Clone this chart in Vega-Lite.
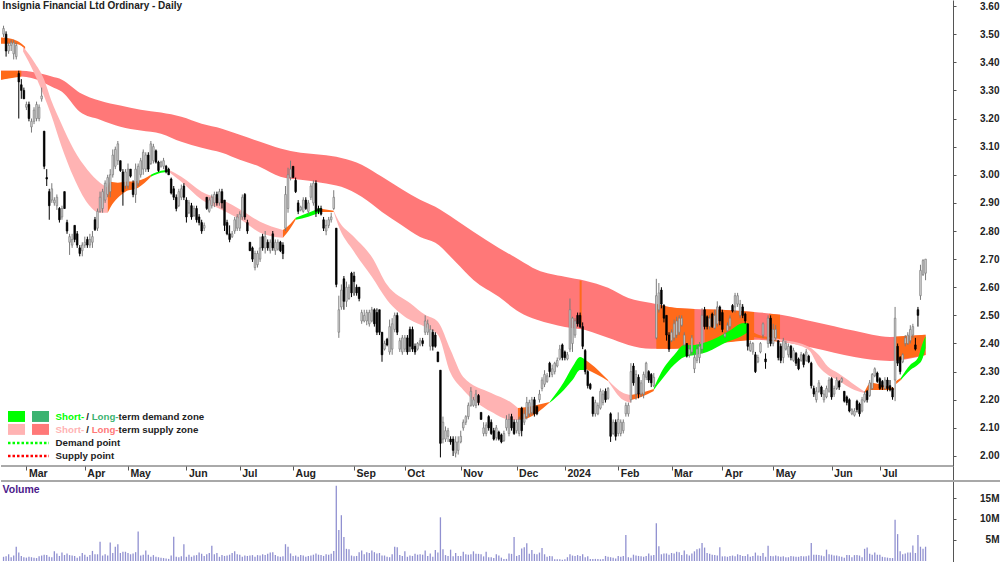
{
"$schema":"https://vega.github.io/schema/vega-lite/v6.json",
"background":"white","padding":0,"spacing":0,"bounds":"flush",
"config":{"view":{"stroke":null},"text":{"font":"Liberation Sans"},"axis":{"labelFont":"Liberation Sans","labelFontWeight":"bold","labelFontSize":10,"labelColor":"#222222","tickColor":"#555555","domainColor":"#555555","grid":false,"title":null}},
"datasets":{
"bars":[
{"d":1,"o":3.5,"h":3.53,"l":3.49,"c":3.52,"v":1.0},{"d":2,"o":3.5,"h":3.51,"l":3.42,"c":3.44,"v":1.1},{"d":3,"o":3.44,"h":3.47,"l":3.43,"c":3.46,"v":1.6},{"d":4,"o":3.46,"h":3.48,"l":3.44,"c":3.47,"v":0.9},{"d":5,"o":3.43,"h":3.48,"l":3.41,"c":3.47,"v":1.3},{"d":6,"o":3.42,"h":3.47,"l":3.41,"c":3.46,"v":3.4},{"d":7,"o":3.36,"h":3.37,"l":3.2,"c":3.33,"v":2.0},{"d":8,"o":3.32,"h":3.34,"l":3.27,"c":3.3,"v":1.2},{"d":9,"o":3.3,"h":3.31,"l":3.27,"c":3.27,"v":0.9},{"d":10,"o":3.24,"h":3.26,"l":3.23,"c":3.25,"v":0.8},
{"d":11,"o":3.25,"h":3.26,"l":3.19,"c":3.2,"v":1.0},{"d":12,"o":3.17,"h":3.2,"l":3.15,"c":3.19,"v":0.9},{"d":13,"o":3.19,"h":3.24,"l":3.18,"c":3.23,"v":0.8},{"d":14,"o":3.2,"h":3.26,"l":3.19,"c":3.25,"v":0.7},{"d":15,"o":3.2,"h":3.25,"l":3.19,"c":3.24,"v":1.1},{"d":16,"o":3.27,"h":3.31,"l":3.26,"c":3.28,"v":1.3},{"d":17,"o":3.155,"h":3.155,"l":3.02,"c":3.03,"v":1.5},{"d":18,"o":2.99,"h":3.02,"l":2.96,"c":2.985,"v":1.4},{"d":19,"o":2.94,"h":2.95,"l":2.84,"c":2.89,"v":1.0},{"d":20,"o":2.91,"h":2.97,"l":2.9,"c":2.95,"v":0.9},
{"d":21,"o":2.9,"h":2.92,"l":2.89,"c":2.91,"v":2.3},{"d":22,"o":2.89,"h":2.93,"l":2.875,"c":2.92,"v":1.8},{"d":23,"o":2.88,"h":2.885,"l":2.83,"c":2.84,"v":1.2},{"d":24,"o":2.85,"h":2.89,"l":2.84,"c":2.88,"v":2.0},{"d":25,"o":2.94,"h":2.94,"l":2.88,"c":2.88,"v":1.4},{"d":26,"o":2.83,"h":2.84,"l":2.79,"c":2.8,"v":1.8},{"d":27,"o":2.76,"h":2.79,"l":2.715,"c":2.78,"v":1.4},{"d":28,"o":2.75,"h":2.79,"l":2.74,"c":2.77,"v":1.3},{"d":29,"o":2.82,"h":2.82,"l":2.76,"c":2.77,"v":1.2},{"d":30,"o":2.79,"h":2.8,"l":2.74,"c":2.75,"v":0.8},
{"d":31,"o":2.74,"h":2.75,"l":2.71,"c":2.72,"v":1.1},{"d":32,"o":2.73,"h":2.76,"l":2.71,"c":2.75,"v":1.9},{"d":33,"o":2.75,"h":2.78,"l":2.74,"c":2.76,"v":1.5},{"d":34,"o":2.77,"h":2.78,"l":2.74,"c":2.75,"v":1.0},{"d":35,"o":2.75,"h":2.79,"l":2.74,"c":2.77,"v":1.4},{"d":36,"o":2.76,"h":2.8,"l":2.74,"c":2.78,"v":2.4},{"d":37,"o":2.84,"h":2.85,"l":2.8,"c":2.805,"v":1.6},{"d":38,"o":2.81,"h":2.88,"l":2.8,"c":2.87,"v":1.6},{"d":39,"o":2.87,"h":2.94,"l":2.865,"c":2.92,"v":4.6},{"d":40,"o":2.88,"h":2.95,"l":2.865,"c":2.94,"v":1.3},
{"d":41,"o":2.91,"h":2.98,"l":2.9,"c":2.97,"v":1.6},{"d":42,"o":2.93,"h":3.0,"l":2.92,"c":2.99,"v":1.3},{"d":43,"o":2.94,"h":3.02,"l":2.92,"c":3.0,"v":4.4},{"d":44,"o":3.0,"h":3.09,"l":2.99,"c":3.07,"v":1.9},{"d":45,"o":3.03,"h":3.1,"l":3.02,"c":3.09,"v":3.4},{"d":46,"o":3.05,"h":3.12,"l":3.035,"c":3.11,"v":4.0},{"d":47,"o":3.05,"h":3.05,"l":3.01,"c":3.015,"v":1.9},{"d":48,"o":3.01,"h":3.02,"l":2.89,"c":2.94,"v":2.2},{"d":49,"o":2.96,"h":3.02,"l":2.95,"c":3.01,"v":2.2},{"d":50,"o":2.96,"h":3.04,"l":2.95,"c":3.02,"v":1.9},
{"d":51,"o":3.02,"h":3.02,"l":2.99,"c":2.995,"v":1.6},{"d":52,"o":2.97,"h":2.98,"l":2.92,"c":2.93,"v":1.8},{"d":53,"o":2.93,"h":3.04,"l":2.9,"c":3.02,"v":2.1},{"d":54,"o":2.97,"h":3.04,"l":2.96,"c":3.03,"v":7.0},{"d":55,"o":3.0,"h":3.06,"l":2.99,"c":3.05,"v":1.3},{"d":56,"o":3.02,"h":3.09,"l":3.0,"c":3.08,"v":1.5},{"d":57,"o":3.02,"h":3.08,"l":3.01,"c":3.07,"v":2.5},{"d":58,"o":3.07,"h":3.08,"l":3.01,"c":3.02,"v":1.5},{"d":59,"o":3.04,"h":3.12,"l":3.035,"c":3.11,"v":1.0},{"d":60,"o":3.05,"h":3.11,"l":3.04,"c":3.1,"v":1.4},
{"d":61,"o":3.085,"h":3.09,"l":3.04,"c":3.045,"v":1.0},{"d":62,"o":3.045,"h":3.05,"l":3.01,"c":3.015,"v":0.9},{"d":63,"o":3.03,"h":3.05,"l":3.025,"c":3.045,"v":0.8},{"d":64,"o":3.03,"h":3.06,"l":3.02,"c":3.05,"v":0.7},{"d":65,"o":3.03,"h":3.035,"l":3.005,"c":3.01,"v":0.6},{"d":66,"o":3.02,"h":3.025,"l":3.0,"c":3.0,"v":0.5},{"d":67,"o":2.985,"h":2.99,"l":2.93,"c":2.935,"v":1.3},{"d":68,"o":2.95,"h":2.96,"l":2.91,"c":2.92,"v":5.8},{"d":69,"o":2.92,"h":2.93,"l":2.87,"c":2.88,"v":1.0},{"d":70,"o":2.89,"h":2.95,"l":2.885,"c":2.94,"v":0.9},
{"d":71,"o":2.92,"h":2.965,"l":2.91,"c":2.95,"v":1.1},{"d":72,"o":2.96,"h":2.97,"l":2.91,"c":2.92,"v":4.0},{"d":73,"o":2.91,"h":2.92,"l":2.83,"c":2.85,"v":1.0},{"d":74,"o":2.865,"h":2.91,"l":2.86,"c":2.9,"v":1.5},{"d":75,"o":2.89,"h":2.9,"l":2.84,"c":2.85,"v":1.0},{"d":76,"o":2.855,"h":2.89,"l":2.85,"c":2.88,"v":1.3},{"d":77,"o":2.88,"h":2.89,"l":2.83,"c":2.84,"v":1.4},{"d":78,"o":2.85,"h":2.86,"l":2.82,"c":2.83,"v":2.0},{"d":79,"o":2.83,"h":2.84,"l":2.79,"c":2.8,"v":1.7},{"d":80,"o":2.81,"h":2.83,"l":2.8,"c":2.82,"v":1.2},
{"d":81,"o":2.92,"h":2.92,"l":2.875,"c":2.88,"v":1.6},{"d":82,"o":2.87,"h":2.92,"l":2.865,"c":2.91,"v":1.9},{"d":83,"o":2.89,"h":2.93,"l":2.88,"c":2.92,"v":3.6},{"d":84,"o":2.9,"h":2.94,"l":2.885,"c":2.93,"v":1.6},{"d":85,"o":2.93,"h":2.94,"l":2.89,"c":2.9,"v":1.9},{"d":86,"o":2.9,"h":2.95,"l":2.89,"c":2.94,"v":1.0},{"d":87,"o":2.94,"h":2.95,"l":2.88,"c":2.9,"v":1.4},{"d":88,"o":2.91,"h":2.91,"l":2.8,"c":2.82,"v":1.2},{"d":89,"o":2.83,"h":2.84,"l":2.785,"c":2.79,"v":1.3},{"d":90,"o":2.79,"h":2.82,"l":2.76,"c":2.77,"v":1.5},
{"d":91,"o":2.78,"h":2.8,"l":2.775,"c":2.79,"v":1.9},{"d":92,"o":2.8,"h":2.85,"l":2.79,"c":2.84,"v":2.3},{"d":93,"o":2.81,"h":2.86,"l":2.8,"c":2.85,"v":1.6},{"d":94,"o":2.81,"h":2.87,"l":2.8,"c":2.86,"v":1.5},{"d":95,"o":2.85,"h":2.93,"l":2.84,"c":2.92,"v":1.0},{"d":96,"o":2.93,"h":2.935,"l":2.84,"c":2.85,"v":1.3},{"d":97,"o":2.83,"h":2.84,"l":2.79,"c":2.8,"v":1.2},{"d":98,"o":2.76,"h":2.76,"l":2.73,"c":2.73,"v":1.3},{"d":99,"o":2.74,"h":2.745,"l":2.69,"c":2.7,"v":1.4},{"d":100,"o":2.67,"h":2.73,"l":2.66,"c":2.72,"v":1.0},
{"d":101,"o":2.68,"h":2.73,"l":2.67,"c":2.72,"v":1.4},{"d":102,"o":2.7,"h":2.78,"l":2.69,"c":2.74,"v":1.3},{"d":103,"o":2.78,"h":2.79,"l":2.73,"c":2.74,"v":1.6},{"d":104,"o":2.74,"h":2.8,"l":2.72,"c":2.78,"v":1.4},{"d":105,"o":2.76,"h":2.77,"l":2.73,"c":2.74,"v":1.7},{"d":106,"o":2.73,"h":2.77,"l":2.72,"c":2.76,"v":2.0},{"d":107,"o":2.79,"h":2.8,"l":2.73,"c":2.74,"v":2.1},{"d":108,"o":2.73,"h":2.77,"l":2.715,"c":2.76,"v":1.4},{"d":109,"o":2.735,"h":2.77,"l":2.73,"c":2.76,"v":1.1},{"d":110,"o":2.76,"h":2.765,"l":2.725,"c":2.73,"v":1.0},
{"d":111,"o":2.75,"h":2.76,"l":2.7,"c":2.72,"v":1.1},{"d":112,"o":2.81,"h":2.96,"l":2.8,"c":2.93,"v":4.0},{"d":113,"o":2.88,"h":3.025,"l":2.865,"c":3.0,"v":3.4},{"d":114,"o":2.99,"h":3.05,"l":2.98,"c":3.02,"v":1.8},{"d":115,"o":3.03,"h":3.03,"l":2.99,"c":2.99,"v":1.2},{"d":116,"o":2.98,"h":2.99,"l":2.935,"c":2.94,"v":1.3},{"d":117,"o":2.9,"h":2.91,"l":2.86,"c":2.87,"v":1.0},{"d":118,"o":2.875,"h":2.89,"l":2.87,"c":2.885,"v":1.4},{"d":119,"o":2.87,"h":2.92,"l":2.865,"c":2.91,"v":1.3},{"d":120,"o":2.91,"h":2.92,"l":2.875,"c":2.88,"v":1.0},
{"d":121,"o":2.87,"h":2.91,"l":2.86,"c":2.9,"v":1.2},{"d":122,"o":2.92,"h":2.97,"l":2.91,"c":2.96,"v":1.3},{"d":123,"o":2.9,"h":2.98,"l":2.89,"c":2.97,"v":1.5},{"d":124,"o":2.97,"h":2.98,"l":2.85,"c":2.87,"v":1.8},{"d":125,"o":2.88,"h":2.89,"l":2.86,"c":2.87,"v":1.5},{"d":126,"o":2.88,"h":2.89,"l":2.855,"c":2.86,"v":1.4},{"d":127,"o":2.84,"h":2.85,"l":2.8,"c":2.81,"v":1.2},{"d":128,"o":2.8,"h":2.84,"l":2.785,"c":2.82,"v":1.6},{"d":129,"o":2.82,"h":2.85,"l":2.81,"c":2.84,"v":1.5},{"d":130,"o":2.84,"h":2.865,"l":2.83,"c":2.85,"v":1.7},
{"d":131,"o":2.88,"h":2.945,"l":2.875,"c":2.92,"v":2.4},{"d":132,"o":2.81,"h":2.81,"l":2.6,"c":2.61,"v":17.9},{"d":133,"o":2.44,"h":2.57,"l":2.42,"c":2.52,"v":7.4},{"d":134,"o":2.53,"h":2.61,"l":2.52,"c":2.59,"v":10.9},{"d":135,"o":2.63,"h":2.64,"l":2.52,"c":2.55,"v":5.7},{"d":136,"o":2.55,"h":2.62,"l":2.53,"c":2.6,"v":2.9},{"d":137,"o":2.56,"h":2.61,"l":2.555,"c":2.6,"v":2.8},{"d":138,"o":2.65,"h":2.655,"l":2.565,"c":2.58,"v":1.3},{"d":139,"o":2.64,"h":2.655,"l":2.57,"c":2.62,"v":1.1},{"d":140,"o":2.6,"h":2.61,"l":2.57,"c":2.58,"v":1.2},
{"d":141,"o":2.6,"h":2.6,"l":2.55,"c":2.56,"v":2.1},{"d":142,"o":2.48,"h":2.52,"l":2.47,"c":2.51,"v":2.5},{"d":143,"o":2.48,"h":2.52,"l":2.475,"c":2.5,"v":1.6},{"d":144,"o":2.48,"h":2.52,"l":2.465,"c":2.51,"v":2.1},{"d":145,"o":2.47,"h":2.52,"l":2.46,"c":2.51,"v":1.9},{"d":146,"o":2.48,"h":2.53,"l":2.475,"c":2.52,"v":2.5},{"d":147,"o":2.52,"h":2.525,"l":2.46,"c":2.47,"v":2.1},{"d":148,"o":2.51,"h":2.525,"l":2.43,"c":2.44,"v":1.8},{"d":149,"o":2.52,"h":2.52,"l":2.43,"c":2.44,"v":1.9},{"d":150,"o":2.44,"h":2.44,"l":2.335,"c":2.36,"v":1.3},
{"d":151,"o":2.38,"h":2.41,"l":2.375,"c":2.4,"v":1.3},{"d":152,"o":2.415,"h":2.42,"l":2.39,"c":2.395,"v":1.0},{"d":153,"o":2.37,"h":2.485,"l":2.36,"c":2.46,"v":0.9},{"d":154,"o":2.38,"h":2.49,"l":2.36,"c":2.47,"v":1.6},{"d":155,"o":2.45,"h":2.51,"l":2.44,"c":2.5,"v":3.4},{"d":156,"o":2.5,"h":2.51,"l":2.43,"c":2.44,"v":3.3},{"d":157,"o":2.38,"h":2.42,"l":2.37,"c":2.41,"v":1.4},{"d":158,"o":2.37,"h":2.43,"l":2.36,"c":2.42,"v":1.2},{"d":159,"o":2.38,"h":2.43,"l":2.37,"c":2.42,"v":2.3},{"d":160,"o":2.42,"h":2.43,"l":2.36,"c":2.37,"v":1.0},
{"d":161,"o":2.45,"h":2.46,"l":2.37,"c":2.39,"v":1.3},{"d":162,"o":2.45,"h":2.46,"l":2.37,"c":2.38,"v":1.2},{"d":163,"o":2.39,"h":2.4,"l":2.36,"c":2.37,"v":1.7},{"d":164,"o":2.38,"h":2.405,"l":2.375,"c":2.4,"v":1.5},{"d":165,"o":2.395,"h":2.42,"l":2.39,"c":2.41,"v":1.6},{"d":166,"o":2.41,"h":2.42,"l":2.39,"c":2.4,"v":1.5},{"d":167,"o":2.44,"h":2.5,"l":2.43,"c":2.48,"v":2.5},{"d":168,"o":2.44,"h":2.485,"l":2.43,"c":2.47,"v":1.2},{"d":169,"o":2.39,"h":2.465,"l":2.375,"c":2.45,"v":1.8},{"d":170,"o":2.44,"h":2.45,"l":2.375,"c":2.39,"v":1.0},
{"d":171,"o":2.43,"h":2.44,"l":2.385,"c":2.39,"v":2.6},{"d":172,"o":2.37,"h":2.37,"l":2.335,"c":2.335,"v":2.0},{"d":173,"o":2.305,"h":2.305,"l":1.995,"c":2.045,"v":10.4},{"d":174,"o":2.06,"h":2.14,"l":2.045,"c":2.12,"v":2.8},{"d":175,"o":2.06,"h":2.105,"l":2.05,"c":2.09,"v":1.4},{"d":176,"o":2.07,"h":2.1,"l":2.05,"c":2.09,"v":1.2},{"d":177,"o":2.06,"h":2.07,"l":2.04,"c":2.05,"v":2.7},{"d":178,"o":2.06,"h":2.07,"l":2.0,"c":2.02,"v":1.1},{"d":179,"o":2.01,"h":2.07,"l":1.995,"c":2.05,"v":1.9},{"d":180,"o":2.02,"h":2.07,"l":2.005,"c":2.05,"v":1.2},
{"d":181,"o":2.05,"h":2.09,"l":2.045,"c":2.07,"v":1.2},{"d":182,"o":2.1,"h":2.13,"l":2.09,"c":2.12,"v":2.2},{"d":183,"o":2.12,"h":2.145,"l":2.11,"c":2.14,"v":1.6},{"d":184,"o":2.14,"h":2.19,"l":2.13,"c":2.18,"v":1.5},{"d":185,"o":2.18,"h":2.245,"l":2.175,"c":2.23,"v":1.6},{"d":186,"o":2.18,"h":2.21,"l":2.175,"c":2.2,"v":2.3},{"d":187,"o":2.18,"h":2.235,"l":2.17,"c":2.22,"v":1.7},{"d":188,"o":2.215,"h":2.22,"l":2.18,"c":2.19,"v":1.7},{"d":189,"o":2.155,"h":2.155,"l":2.13,"c":2.13,"v":1.6},{"d":190,"o":2.08,"h":2.12,"l":2.07,"c":2.1,"v":1.1},
{"d":191,"o":2.08,"h":2.12,"l":2.07,"c":2.11,"v":2.2},{"d":192,"o":2.14,"h":2.145,"l":2.09,"c":2.1,"v":0.9},{"d":193,"o":2.12,"h":2.13,"l":2.075,"c":2.08,"v":0.9},{"d":194,"o":2.09,"h":2.1,"l":2.055,"c":2.06,"v":0.7},{"d":195,"o":2.065,"h":2.11,"l":2.055,"c":2.1,"v":1.6},{"d":196,"o":2.085,"h":2.09,"l":2.055,"c":2.06,"v":1.3},{"d":197,"o":2.075,"h":2.08,"l":2.045,"c":2.05,"v":0.8},{"d":198,"o":2.055,"h":2.09,"l":2.05,"c":2.08,"v":0.5},{"d":199,"o":2.1,"h":2.145,"l":2.09,"c":2.13,"v":0.5},{"d":200,"o":2.08,"h":2.15,"l":2.07,"c":2.13,"v":1.8},
{"d":201,"o":2.14,"h":2.15,"l":2.09,"c":2.1,"v":1.7},{"d":202,"o":2.12,"h":2.13,"l":2.075,"c":2.08,"v":5.7},{"d":203,"o":2.09,"h":2.13,"l":2.08,"c":2.12,"v":1.2},{"d":204,"o":2.08,"h":2.14,"l":2.07,"c":2.13,"v":1.4},{"d":205,"o":2.17,"h":2.175,"l":2.07,"c":2.09,"v":3.0},{"d":206,"o":2.12,"h":2.165,"l":2.11,"c":2.15,"v":3.3},{"d":207,"o":2.14,"h":2.21,"l":2.13,"c":2.19,"v":4.2},{"d":208,"o":2.15,"h":2.2,"l":2.14,"c":2.19,"v":1.7},{"d":209,"o":2.155,"h":2.21,"l":2.145,"c":2.2,"v":2.6},{"d":210,"o":2.2,"h":2.21,"l":2.14,"c":2.15,"v":1.7},
{"d":211,"o":2.175,"h":2.18,"l":2.145,"c":2.15,"v":1.6},{"d":212,"o":2.2,"h":2.235,"l":2.19,"c":2.22,"v":2.0},{"d":213,"o":2.24,"h":2.28,"l":2.23,"c":2.27,"v":3.1},{"d":214,"o":2.255,"h":2.305,"l":2.245,"c":2.29,"v":1.6},{"d":215,"o":2.265,"h":2.295,"l":2.26,"c":2.285,"v":1.0},{"d":216,"o":2.33,"h":2.335,"l":2.28,"c":2.3,"v":1.2},{"d":217,"o":2.29,"h":2.325,"l":2.28,"c":2.31,"v":1.1},{"d":218,"o":2.3,"h":2.335,"l":2.29,"c":2.33,"v":0.4},{"d":219,"o":2.32,"h":2.35,"l":2.315,"c":2.34,"v":0.4},{"d":220,"o":2.345,"h":2.395,"l":2.34,"c":2.38,"v":0.4},
{"d":221,"o":2.395,"h":2.4,"l":2.34,"c":2.35,"v":0.3},{"d":222,"o":2.37,"h":2.375,"l":2.34,"c":2.35,"v":0.4},{"d":223,"o":2.345,"h":2.37,"l":2.34,"c":2.36,"v":0.9},{"d":224,"o":2.38,"h":2.56,"l":2.37,"c":2.52,"v":1.6},{"d":225,"o":2.4,"h":2.495,"l":2.37,"c":2.49,"v":1.3},{"d":226,"o":2.43,"h":2.49,"l":2.42,"c":2.48,"v":1.2},{"d":227,"o":2.5,"h":2.51,"l":2.46,"c":2.47,"v":1.4},{"d":228,"o":2.5,"h":2.51,"l":2.455,"c":2.46,"v":1.2},{"d":229,"o":2.46,"h":2.475,"l":2.38,"c":2.39,"v":1.6},{"d":230,"o":2.375,"h":2.38,"l":2.29,"c":2.3,"v":0.9},
{"d":231,"o":2.3,"h":2.305,"l":2.24,"c":2.25,"v":1.1},{"d":232,"o":2.255,"h":2.26,"l":2.235,"c":2.24,"v":0.5},{"d":233,"o":2.21,"h":2.21,"l":2.14,"c":2.15,"v":0.5},{"d":234,"o":2.15,"h":2.2,"l":2.14,"c":2.19,"v":0.5},{"d":235,"o":2.15,"h":2.19,"l":2.145,"c":2.18,"v":0.5},{"d":236,"o":2.17,"h":2.24,"l":2.165,"c":2.23,"v":0.4},{"d":237,"o":2.19,"h":2.235,"l":2.18,"c":2.22,"v":0.5},{"d":238,"o":2.23,"h":2.24,"l":2.19,"c":2.2,"v":1.2},{"d":239,"o":2.205,"h":2.245,"l":2.2,"c":2.24,"v":1.0},{"d":240,"o":2.15,"h":2.155,"l":2.05,"c":2.07,"v":0.9},
{"d":241,"o":2.08,"h":2.13,"l":2.075,"c":2.12,"v":0.8},{"d":242,"o":2.12,"h":2.13,"l":2.055,"c":2.07,"v":0.6},{"d":243,"o":2.08,"h":2.155,"l":2.07,"c":2.13,"v":1.2},{"d":244,"o":2.08,"h":2.13,"l":2.07,"c":2.12,"v":1.0},{"d":245,"o":2.09,"h":2.13,"l":2.08,"c":2.12,"v":1.2},{"d":246,"o":2.15,"h":2.19,"l":2.14,"c":2.18,"v":6.2},{"d":247,"o":2.15,"h":2.19,"l":2.14,"c":2.18,"v":0.9},{"d":248,"o":2.2,"h":2.33,"l":2.19,"c":2.3,"v":0.8},{"d":249,"o":2.32,"h":2.33,"l":2.25,"c":2.26,"v":1.5},{"d":250,"o":2.22,"h":2.305,"l":2.2,"c":2.29,"v":1.3},
{"d":251,"o":2.28,"h":2.29,"l":2.205,"c":2.22,"v":1.2},{"d":252,"o":2.22,"h":2.27,"l":2.21,"c":2.26,"v":1.1},{"d":253,"o":2.22,"h":2.3,"l":2.205,"c":2.29,"v":1.0},{"d":254,"o":2.28,"h":2.335,"l":2.27,"c":2.33,"v":1.2},{"d":255,"o":2.3,"h":2.305,"l":2.26,"c":2.27,"v":1.8},{"d":256,"o":2.29,"h":2.295,"l":2.245,"c":2.26,"v":1.3},{"d":257,"o":2.25,"h":2.295,"l":2.245,"c":2.28,"v":1.4},{"d":258,"o":2.42,"h":2.63,"l":2.415,"c":2.57,"v":9.0},{"d":259,"o":2.52,"h":2.615,"l":2.51,"c":2.58,"v":3.5},{"d":260,"o":2.59,"h":2.6,"l":2.525,"c":2.54,"v":1.6},
{"d":261,"o":2.535,"h":2.54,"l":2.475,"c":2.49,"v":1.8},{"d":262,"o":2.5,"h":2.5,"l":2.41,"c":2.43,"v":1.8},{"d":263,"o":2.43,"h":2.44,"l":2.37,"c":2.38,"v":1.5},{"d":264,"o":2.41,"h":2.45,"l":2.405,"c":2.44,"v":1.9},{"d":265,"o":2.42,"h":2.485,"l":2.41,"c":2.47,"v":1.8},{"d":266,"o":2.43,"h":2.495,"l":2.42,"c":2.48,"v":2.2},{"d":267,"o":2.44,"h":2.5,"l":2.43,"c":2.49,"v":2.1},{"d":268,"o":2.465,"h":2.5,"l":2.46,"c":2.49,"v":1.4},{"d":269,"o":2.395,"h":2.44,"l":2.39,"c":2.43,"v":2.5},{"d":270,"o":2.4,"h":2.4,"l":2.35,"c":2.355,"v":1.6},
{"d":271,"o":2.36,"h":2.395,"l":2.35,"c":2.38,"v":1.3},{"d":272,"o":2.37,"h":2.43,"l":2.36,"c":2.42,"v":1.8},{"d":273,"o":2.31,"h":2.365,"l":2.295,"c":2.35,"v":2.3},{"d":274,"o":2.34,"h":2.395,"l":2.33,"c":2.38,"v":2.8},{"d":275,"o":2.35,"h":2.405,"l":2.33,"c":2.39,"v":3.0},{"d":276,"o":2.38,"h":2.525,"l":2.365,"c":2.5,"v":4.3},{"d":277,"o":2.52,"h":2.53,"l":2.45,"c":2.46,"v":3.2},{"d":278,"o":2.495,"h":2.5,"l":2.45,"c":2.46,"v":1.9},{"d":279,"o":2.46,"h":2.5,"l":2.45,"c":2.49,"v":1.7},{"d":280,"o":2.505,"h":2.51,"l":2.455,"c":2.46,"v":1.5},
{"d":281,"o":2.455,"h":2.52,"l":2.45,"c":2.5,"v":1.4},{"d":282,"o":2.47,"h":2.55,"l":2.46,"c":2.53,"v":1.3},{"d":283,"o":2.53,"h":2.535,"l":2.465,"c":2.48,"v":3.3},{"d":284,"o":2.51,"h":2.52,"l":2.44,"c":2.45,"v":1.1},{"d":285,"o":2.425,"h":2.44,"l":2.42,"c":2.435,"v":1.1},{"d":286,"o":2.445,"h":2.475,"l":2.44,"c":2.465,"v":1.0},{"d":287,"o":2.46,"h":2.5,"l":2.45,"c":2.49,"v":1.2},{"d":288,"o":2.535,"h":2.54,"l":2.51,"c":2.515,"v":1.3},{"d":289,"o":2.53,"h":2.58,"l":2.51,"c":2.57,"v":1.1},{"d":290,"o":2.54,"h":2.58,"l":2.53,"c":2.57,"v":1.6},
{"d":291,"o":2.5,"h":2.555,"l":2.49,"c":2.54,"v":1.4},{"d":292,"o":2.53,"h":2.54,"l":2.49,"c":2.5,"v":1.2},{"d":293,"o":2.505,"h":2.51,"l":2.47,"c":2.48,"v":1.2},{"d":294,"o":2.47,"h":2.47,"l":2.375,"c":2.39,"v":1.6},{"d":295,"o":2.375,"h":2.41,"l":2.37,"c":2.4,"v":1.0},{"d":296,"o":2.37,"h":2.405,"l":2.36,"c":2.4,"v":1.2},{"d":297,"o":2.36,"h":2.37,"l":2.295,"c":2.3,"v":2.0},{"d":298,"o":2.335,"h":2.36,"l":2.33,"c":2.35,"v":1.3},{"d":299,"o":2.37,"h":2.405,"l":2.365,"c":2.4,"v":1.2},{"d":300,"o":2.43,"h":2.475,"l":2.42,"c":2.47,"v":1.9},
{"d":301,"o":2.345,"h":2.365,"l":2.31,"c":2.335,"v":1.0},{"d":302,"o":2.4,"h":2.5,"l":2.385,"c":2.49,"v":3.6},{"d":303,"o":2.49,"h":2.5,"l":2.39,"c":2.4,"v":1.2},{"d":304,"o":2.4,"h":2.47,"l":2.39,"c":2.45,"v":1.1},{"d":305,"o":2.42,"h":2.465,"l":2.41,"c":2.45,"v":1.3},{"d":306,"o":2.41,"h":2.41,"l":2.34,"c":2.35,"v":1.1},{"d":307,"o":2.39,"h":2.4,"l":2.33,"c":2.34,"v":1.0},{"d":308,"o":2.35,"h":2.42,"l":2.33,"c":2.41,"v":1.1},{"d":309,"o":2.38,"h":2.41,"l":2.375,"c":2.4,"v":0.9},{"d":310,"o":2.36,"h":2.4,"l":2.35,"c":2.39,"v":0.9},
{"d":311,"o":2.39,"h":2.395,"l":2.34,"c":2.35,"v":1.2},{"d":312,"o":2.34,"h":2.385,"l":2.335,"c":2.375,"v":1.1},{"d":313,"o":2.365,"h":2.37,"l":2.32,"c":2.33,"v":1.0},{"d":314,"o":2.345,"h":2.35,"l":2.305,"c":2.31,"v":1.0},{"d":315,"o":2.34,"h":2.37,"l":2.335,"c":2.36,"v":1.2},{"d":316,"o":2.36,"h":2.365,"l":2.315,"c":2.325,"v":1.1},{"d":317,"o":2.34,"h":2.38,"l":2.335,"c":2.37,"v":1.1},{"d":318,"o":2.355,"h":2.36,"l":2.33,"c":2.335,"v":1.3},{"d":319,"o":2.33,"h":2.335,"l":2.24,"c":2.25,"v":4.3},{"d":320,"o":2.24,"h":2.25,"l":2.21,"c":2.22,"v":1.5},
{"d":321,"o":2.2,"h":2.245,"l":2.19,"c":2.23,"v":1.5},{"d":322,"o":2.23,"h":2.27,"l":2.225,"c":2.26,"v":1.4},{"d":323,"o":2.245,"h":2.25,"l":2.21,"c":2.22,"v":1.3},{"d":324,"o":2.2,"h":2.235,"l":2.19,"c":2.22,"v":1.1},{"d":325,"o":2.21,"h":2.25,"l":2.205,"c":2.24,"v":2.7},{"d":326,"o":2.23,"h":2.28,"l":2.225,"c":2.27,"v":1.6},{"d":327,"o":2.275,"h":2.28,"l":2.2,"c":2.21,"v":1.5},{"d":328,"o":2.22,"h":2.25,"l":2.21,"c":2.24,"v":1.3},{"d":329,"o":2.24,"h":2.28,"l":2.235,"c":2.27,"v":1.3},{"d":330,"o":2.265,"h":2.27,"l":2.235,"c":2.245,"v":1.1},
{"d":331,"o":2.265,"h":2.28,"l":2.26,"c":2.275,"v":1.0},{"d":332,"o":2.23,"h":2.23,"l":2.19,"c":2.195,"v":0.8},{"d":333,"o":2.21,"h":2.215,"l":2.18,"c":2.19,"v":1.4},{"d":334,"o":2.2,"h":2.205,"l":2.155,"c":2.16,"v":1.4},{"d":335,"o":2.15,"h":2.17,"l":2.145,"c":2.165,"v":0.9},{"d":336,"o":2.145,"h":2.17,"l":2.14,"c":2.16,"v":1.4},{"d":337,"o":2.195,"h":2.2,"l":2.155,"c":2.165,"v":1.4},{"d":338,"o":2.185,"h":2.19,"l":2.14,"c":2.15,"v":1.3},{"d":339,"o":2.16,"h":2.21,"l":2.155,"c":2.2,"v":0.9},{"d":340,"o":2.195,"h":2.23,"l":2.19,"c":2.22,"v":2.9},
{"d":341,"o":2.23,"h":2.235,"l":2.19,"c":2.2,"v":3.2},{"d":342,"o":2.215,"h":2.27,"l":2.21,"c":2.26,"v":1.7},{"d":343,"o":2.24,"h":2.295,"l":2.235,"c":2.29,"v":1.5},{"d":344,"o":2.285,"h":2.315,"l":2.28,"c":2.31,"v":2.0},{"d":345,"o":2.295,"h":2.3,"l":2.26,"c":2.265,"v":1.5},{"d":346,"o":2.275,"h":2.28,"l":2.235,"c":2.24,"v":1.5},{"d":347,"o":2.265,"h":2.27,"l":2.235,"c":2.245,"v":1.0},{"d":348,"o":2.24,"h":2.28,"l":2.235,"c":2.27,"v":0.9},{"d":349,"o":2.27,"h":2.28,"l":2.23,"c":2.24,"v":0.8},{"d":350,"o":2.25,"h":2.27,"l":2.23,"c":2.235,"v":0.7},
{"d":351,"o":2.24,"h":2.245,"l":2.2,"c":2.21,"v":0.7},{"d":352,"o":2.27,"h":2.53,"l":2.195,"c":2.49,"v":9.8},{"d":353,"o":2.39,"h":2.4,"l":2.32,"c":2.33,"v":6.4},{"d":354,"o":2.35,"h":2.355,"l":2.29,"c":2.3,"v":2.3},{"d":355,"o":2.335,"h":2.365,"l":2.33,"c":2.36,"v":1.6},{"d":356,"o":2.4,"h":2.43,"l":2.39,"c":2.42,"v":1.8},{"d":357,"o":2.4,"h":2.44,"l":2.395,"c":2.43,"v":2.0},{"d":358,"o":2.41,"h":2.465,"l":2.4,"c":2.45,"v":2.0},{"d":359,"o":2.43,"h":2.47,"l":2.42,"c":2.46,"v":3.7},{"d":360,"o":2.395,"h":2.42,"l":2.375,"c":2.38,"v":1.9},
{"d":361,"o":2.52,"h":2.53,"l":2.46,"c":2.5,"v":6.2},{"d":362,"o":2.57,"h":2.68,"l":2.555,"c":2.66,"v":3.4},{"d":363,"o":2.645,"h":2.7,"l":2.64,"c":2.695,"v":2.9},{"d":364,"o":2.65,"h":2.7,"l":2.625,"c":2.7,"v":3.4}
],
"longBand":[
{"d":0,"t":3.37,"b":3.338},{"d":8,"t":3.37,"b":3.349},{"d":16,"t":3.359,"b":3.331},{"d":20,"t":3.349,"b":3.313},{"d":24,"t":3.338,"b":3.295},{"d":31,"t":3.292,"b":3.224},{"d":39,"t":3.263,"b":3.196},{"d":47,"t":3.246,"b":3.171},{"d":55,"t":3.231,"b":3.157},{"d":63,"t":3.221,"b":3.146},{"d":71,"t":3.206,"b":3.117},{"d":79,"t":3.181,"b":3.096},{"d":87,"t":3.164,"b":3.078},{"d":94,"t":3.142,"b":3.053},{"d":102,"t":3.117,"b":3.028},{"d":110,"t":3.093,"b":2.993},{"d":118,"t":3.078,"b":2.982},{"d":126,"t":3.071,"b":2.972},{"d":134,"t":3.06,"b":2.957},{"d":142,"t":3.036,"b":2.922},{"d":150,"t":2.993,"b":2.868},{"d":157.5,"t":2.95,"b":2.822},{"d":165,"t":2.911,"b":2.779},{"d":171,"t":2.886,"b":2.758},{"d":179,"t":2.84,"b":2.69},{"d":186,"t":2.797,"b":2.626},{"d":196,"t":2.74,"b":2.566},{"d":204,"t":2.698,"b":2.512},{"d":211,"t":2.662,"b":2.484},{"d":222,"t":2.637,"b":2.459},{"d":230,"t":2.623,"b":2.448},{"d":239,"t":2.598,"b":2.42},{"d":247,"t":2.562,"b":2.395},{"d":256,"t":2.544,"b":2.381},{"d":265,"t":2.527,"b":2.381},{"d":273,"t":2.523,"b":2.391},{"d":283.5,"t":2.52,"b":2.402},{"d":296.5,"t":2.512,"b":2.413},{"d":307,"t":2.502,"b":2.406},{"d":320,"t":2.477,"b":2.384},{"d":336,"t":2.445,"b":2.352},{"d":350,"t":2.423,"b":2.338},{"d":364,"t":2.431,"b":2.359}
],
"zones":[
{"s":"L1","z":"overlap","d":0,"t":3.37,"b":3.338},{"s":"L1","z":"overlap","d":8,"t":3.37,"b":3.349},
{"s":"L2","z":"overlap","d":258,"t":2.54,"b":2.381},{"s":"L2","z":"overlap","d":265,"t":2.527,"b":2.381},{"s":"L2","z":"overlap","d":273,"t":2.523,"b":2.391},
{"s":"L3","z":"overlap","d":277,"t":2.522,"b":2.396},{"s":"L3","z":"overlap","d":283.5,"t":2.52,"b":2.402},{"s":"L3","z":"overlap","d":296.5,"t":2.512,"b":2.413},
{"s":"L4","z":"overlap","d":302.5,"t":2.506,"b":2.41},{"s":"L4","z":"overlap","d":306.7,"t":2.502,"b":2.406},
{"s":"L5","z":"overlap","d":227.8,"t":2.624,"b":2.466},{"s":"L5","z":"overlap","d":228.6,"t":2.623,"b":2.466},
{"s":"L6","z":"overlap","d":352.4,"t":2.425,"b":2.34},{"s":"L6","z":"overlap","d":364,"t":2.431,"b":2.359},
{"s":"S1","z":"overlap","d":0,"t":3.488,"b":3.466},{"s":"S1","z":"overlap","d":4,"t":3.484,"b":3.466},{"s":"S1","z":"overlap","d":7,"t":3.473,"b":3.463},{"s":"S1","z":"overlap","d":9.5,"t":3.455,"b":3.445},
{"s":"S2","z":"short supply","d":8.7,"t":3.455,"b":3.438},{"s":"S2","z":"short supply","d":13,"t":3.402,"b":3.363},{"s":"S2","z":"short supply","d":17,"t":3.338,"b":3.278},{"s":"S2","z":"short supply","d":19.7,"t":3.267,"b":3.214},{"s":"S2","z":"short supply","d":23.6,"t":3.185,"b":3.107},{"s":"S2","z":"short supply","d":28.7,"t":3.089,"b":2.989},{"s":"S2","z":"short supply","d":34,"t":3.018,"b":2.9},{"s":"S2","z":"short supply","d":39,"t":2.972,"b":2.865},{"s":"S2","z":"short supply","d":42,"t":2.954,"b":2.865},
{"s":"S3","z":"overlap","d":42,"t":2.954,"b":2.865},{"s":"S3","z":"overlap","d":43,"t":2.975,"b":2.883},{"s":"S3","z":"overlap","d":46,"t":2.972,"b":2.918},{"s":"S3","z":"overlap","d":49,"t":2.975,"b":2.94},{"s":"S3","z":"overlap","d":54,"t":2.979,"b":2.954},{"s":"S3","z":"overlap","d":59,"t":3.0,"b":2.993},
{"s":"S4","z":"short demand","d":59,"t":3.0,"b":2.993},{"s":"S4","z":"short demand","d":63,"t":3.014,"b":3.007},{"s":"S4","z":"short demand","d":66,"t":3.018,"b":3.011},
{"s":"S5","z":"short supply","d":66,"t":3.018,"b":3.011},{"s":"S5","z":"short supply","d":71,"t":2.993,"b":2.975},{"s":"S5","z":"short supply","d":79,"t":2.94,"b":2.911},{"s":"S5","z":"short supply","d":87,"t":2.911,"b":2.875},{"s":"S5","z":"short supply","d":94.5,"t":2.875,"b":2.84},{"s":"S5","z":"short supply","d":102,"t":2.833,"b":2.794},{"s":"S5","z":"short supply","d":111,"t":2.804,"b":2.776},
{"s":"S6","z":"overlap","d":111,"t":2.804,"b":2.776},{"s":"S6","z":"overlap","d":114,"t":2.826,"b":2.811},{"s":"S6","z":"overlap","d":116,"t":2.847,"b":2.84},
{"s":"S7","z":"short demand","d":116,"t":2.847,"b":2.84},{"s":"S7","z":"short demand","d":121,"t":2.865,"b":2.851},{"s":"S7","z":"short demand","d":126,"t":2.883,"b":2.868},
{"s":"S8","z":"overlap","d":126,"t":2.879,"b":2.868},{"s":"S8","z":"overlap","d":131,"t":2.872,"b":2.868},
{"s":"S9","z":"short supply","d":131,"t":2.872,"b":2.868},{"s":"S9","z":"short supply","d":132.7,"t":2.84,"b":2.822},{"s":"S9","z":"short supply","d":139,"t":2.779,"b":2.726},{"s":"S9","z":"short supply","d":146,"t":2.708,"b":2.637},{"s":"S9","z":"short supply","d":152,"t":2.609,"b":2.555},{"s":"S9","z":"short supply","d":161,"t":2.544,"b":2.484},{"s":"S9","z":"short supply","d":167,"t":2.502,"b":2.459},{"s":"S9","z":"short supply","d":172,"t":2.477,"b":2.431},{"s":"S9","z":"short supply","d":177,"t":2.377,"b":2.295},{"s":"S9","z":"short supply","d":182,"t":2.281,"b":2.235},{"s":"S9","z":"short supply","d":193,"t":2.224,"b":2.157},{"s":"S9","z":"short supply","d":201,"t":2.189,"b":2.128},{"s":"S9","z":"short supply","d":203.5,"t":2.171,"b":2.128},
{"s":"S10","z":"overlap","d":203.5,"t":2.171,"b":2.128},{"s":"S10","z":"overlap","d":207.5,"t":2.174,"b":2.135},{"s":"S10","z":"overlap","d":211,"t":2.181,"b":2.153},{"s":"S10","z":"overlap","d":216,"t":2.192,"b":2.19},
{"s":"S11","z":"short demand","d":216,"t":2.192,"b":2.189},{"s":"S11","z":"short demand","d":221.6,"t":2.263,"b":2.235},{"s":"S11","z":"short demand","d":225,"t":2.317,"b":2.27},{"s":"S11","z":"short demand","d":228,"t":2.352,"b":2.306},{"s":"S11","z":"short demand","d":230,"t":2.342,"b":2.306},
{"s":"S12","z":"overlap","d":230,"t":2.342,"b":2.31},{"s":"S12","z":"overlap","d":235,"t":2.306,"b":2.288},{"s":"S12","z":"overlap","d":239,"t":2.27,"b":2.267},
{"s":"S13","z":"short supply","d":239,"t":2.27,"b":2.267},{"s":"S13","z":"short supply","d":245,"t":2.224,"b":2.199},{"s":"S13","z":"short supply","d":248,"t":2.217,"b":2.189},
{"s":"S14","z":"overlap","d":248,"t":2.217,"b":2.199},{"s":"S14","z":"overlap","d":252,"t":2.224,"b":2.21},{"s":"S14","z":"overlap","d":257,"t":2.238,"b":2.231},
{"s":"S15","z":"short demand","d":257,"t":2.242,"b":2.235},{"s":"S15","z":"short demand","d":260,"t":2.299,"b":2.27},{"s":"S15","z":"short demand","d":265,"t":2.359,"b":2.324},{"s":"S15","z":"short demand","d":269,"t":2.395,"b":2.352},{"s":"S15","z":"short demand","d":273,"t":2.395,"b":2.359},{"s":"S15","z":"short demand","d":278,"t":2.406,"b":2.37},{"s":"S15","z":"short demand","d":286,"t":2.441,"b":2.406},{"s":"S15","z":"short demand","d":292.5,"t":2.473,"b":2.431},{"s":"S15","z":"short demand","d":294,"t":2.473,"b":2.441},
{"s":"S16","z":"overlap","d":294,"t":2.466,"b":2.441},{"s":"S16","z":"overlap","d":296.5,"t":2.438,"b":2.423},{"s":"S16","z":"overlap","d":302,"t":2.423,"b":2.416},
{"s":"S17","z":"short supply","d":302,"t":2.423,"b":2.416},{"s":"S17","z":"short supply","d":308,"t":2.413,"b":2.406},{"s":"S17","z":"short supply","d":318,"t":2.388,"b":2.377},{"s":"S17","z":"short supply","d":322,"t":2.359,"b":2.317},{"s":"S17","z":"short supply","d":325.6,"t":2.317,"b":2.288},{"s":"S17","z":"short supply","d":329.5,"t":2.295,"b":2.27},{"s":"S17","z":"short supply","d":333.5,"t":2.27,"b":2.246},{"s":"S17","z":"short supply","d":336,"t":2.253,"b":2.235},{"s":"S17","z":"short supply","d":340,"t":2.228,"b":2.224},
{"s":"S18","z":"overlap","d":340,"t":2.228,"b":2.224},{"s":"S18","z":"overlap","d":342.5,"t":2.26,"b":2.235},{"s":"S18","z":"overlap","d":346.5,"t":2.253,"b":2.235},{"s":"S18","z":"overlap","d":351.6,"t":2.242,"b":2.235},
{"s":"S19","z":"overlap","d":352.4,"t":2.267,"b":2.256},{"s":"S19","z":"overlap","d":354.3,"t":2.278,"b":2.27},
{"s":"S20","z":"short demand","d":354.3,"t":2.278,"b":2.27},{"s":"S20","z":"short demand","d":358,"t":2.324,"b":2.306},{"s":"S20","z":"short demand","d":361,"t":2.349,"b":2.324},{"s":"S20","z":"short demand","d":362.6,"t":2.395,"b":2.342},{"s":"S20","z":"short demand","d":364,"t":2.427,"b":2.384}
],
"swatches":[
{"z":"short demand","d":2.76,"d2":9.45,"t":2.16,"b":2.121},{"z":"long demand","d":12.2,"d2":18.9,"t":2.16,"b":2.121},{"z":"short supply","d":2.76,"d2":9.45,"t":2.114,"b":2.075},{"z":"long supply","d":12.2,"d2":18.9,"t":2.114,"b":2.075}
],
"points":[
{"z":"demand point","d":2.76,"d2":18.9,"p":2.046},{"z":"supply point","d":2.76,"d2":18.9,"p":2.0}
],
"heading":[
{"text":"Insignia Financial Ltd Ordinary - Daily","z":"ink","d":0.6,"p":3.6}
],
"labels":[
{"text":"Short-","z":"short demand","d":21.5,"p":2.139},{"text":"/","z":"ink","d":33.6,"p":2.139},{"text":"Long-","z":"long demand","d":35.7,"p":2.139},{"text":"term demand zone","z":"ink","d":46.3,"p":2.139},
{"text":"Short-","z":"short supply","d":21.5,"p":2.093},{"text":"/","z":"ink","d":33.6,"p":2.093},{"text":"Long-","z":"long supply","d":35.7,"p":2.093},{"text":"term supply zone","z":"ink","d":46.3,"p":2.093},
{"text":"Demand point","z":"ink","d":21.5,"p":2.046},{"text":"Supply point","z":"ink","d":21.5,"p":2.0}
],
"frame":[{"d":0,"d2":374.8,"m":22.62}],
"volumeTitle":[{"text":"Volume","d":0.6,"m":16.9}]
},
"vconcat":[
{"width":1000,"height":466,
"layer":[
{"data":{"name":"longBand"},"mark":{"type":"area","orient":"vertical","color":"#ff7878","interpolate":"monotone"},
"encoding":{"x":{"field":"d","type":"quantitative","scale":{"domain":[0,393.7],"nice":false,"zero":false,"padding":0},
"axis":{"orient":"bottom","domain":false,"tickSize":4,"labelAlign":"left","labelBaseline":"middle","labelPadding":3,"labelOffset":2,"labelFontSize":10.5,"labelOverlap":false,
"values":[10,33,50,73,94,115,139,159,181,203,222,243,264,284,304,327,346],
"labelExpr":"{'10':'Mar','33':'Apr','50':'May','73':'Jun','94':'Jul','115':'Aug','139':'Sep','159':'Oct','181':'Nov','203':'Dec','222':'2024','243':'Feb','264':'Mar','284':'Apr','304':'May','327':'Jun','346':'Jul'}[''+datum.value]"}},
"y":{"field":"t","type":"quantitative","scale":{"domain":[1.9644,3.6214],"nice":false,"zero":false},
"axis":{"orient":"right","offset":-48,"tickSize":3,"labelAlign":"right","labelBaseline":"middle","labelPadding":43,"labelOverlap":false,"labelSeparation":0,"tickCount":17,"values":[2.0,2.1,2.2,2.3,2.4,2.5,2.6,2.7,2.8,2.9,3.0,3.1,3.2,3.3,3.4,3.5,3.6],"format":".2f"}},
"y2":{"field":"b"}}},
{"data":{"name":"zones"},"mark":{"type":"area","orient":"vertical","interpolate":"monotone"},
"encoding":{"x":{"field":"d","type":"quantitative"},"y":{"field":"t","type":"quantitative"},"y2":{"field":"b"},"detail":{"field":"s"},
"color":{"field":"z","type":"nominal","legend":null,"scale":{"domain":["short demand","long demand","short supply","long supply","overlap","demand point","supply point","ink"],"range":["#00ff00","#3cb371","#ffb3b3","#ff7878","#ff6a1a","#00ff00","#ff0000","#222222"]}}}},
{"data":{"name":"swatches"},"mark":{"type":"rect"},
"encoding":{"x":{"field":"d","type":"quantitative"},"x2":{"field":"d2"},"y":{"field":"t","type":"quantitative"},"y2":{"field":"b"},"color":{"field":"z","type":"nominal","legend":null}}},
{"data":{"name":"points"},"mark":{"type":"rule","strokeWidth":2.5,"strokeDash":[2.5,2]},
"encoding":{"x":{"field":"d","type":"quantitative"},"x2":{"field":"d2"},"y":{"field":"p","type":"quantitative"},"color":{"field":"z","type":"nominal","legend":null}}},
{"data":{"name":"bars"},"mark":{"type":"rule","strokeWidth":1},
"encoding":{"x":{"field":"d","type":"quantitative"},"y":{"field":"l","type":"quantitative"},"y2":{"field":"h"},
"color":{"condition":{"test":"datum.c>=datum.o","value":"#7a7a7a"},"value":"#000000"}}},
{"data":{"name":"bars"},"mark":{"type":"bar","orient":"vertical","size":1.6,"strokeWidth":0.7},
"encoding":{"x":{"field":"d","type":"quantitative"},"y":{"field":"o","type":"quantitative"},"y2":{"field":"c"},
"fill":{"condition":{"test":"datum.c>=datum.o","value":"#dddddd"},"value":"#000000"},
"stroke":{"condition":{"test":"datum.c>=datum.o","value":"#7a7a7a"},"value":"#000000"}}},
{"data":{"name":"heading"},"mark":{"type":"text","align":"left","baseline":"middle","fontWeight":"bold","fontSize":10},
"encoding":{"x":{"field":"d","type":"quantitative"},"y":{"field":"p","type":"quantitative"},"text":{"field":"text"},"color":{"field":"z","type":"nominal","legend":null}}},
{"data":{"name":"labels"},"mark":{"type":"text","align":"left","baseline":"middle","fontWeight":"bold","fontSize":9.7},
"encoding":{"x":{"field":"d","type":"quantitative"},"y":{"field":"p","type":"quantitative"},"text":{"field":"text"},"color":{"field":"z","type":"nominal","legend":null}}}
]},
{"width":1000,"height":96,
"layer":[
{"data":{"name":"bars"},"mark":{"type":"bar","orient":"vertical","size":1.3,"color":"#9090d0"},
"encoding":{"x":{"field":"d","type":"quantitative","axis":null,"scale":{"domain":[0,393.7],"nice":false,"zero":false,"padding":0}},
"y":{"field":"v","type":"quantitative","scale":{"domain":[-0.24,22.62],"nice":false,"zero":false},
"axis":{"orient":"right","offset":-48,"tickSize":3,"labelAlign":"right","labelBaseline":"middle","labelPadding":43,"labelOverlap":false,"values":[5,10,15],"labelExpr":"datum.value+'M'"}}}},
{"data":{"name":"frame"},"mark":{"type":"rule","color":"#555555","strokeWidth":1},
"encoding":{"x":{"field":"d","type":"quantitative"},"x2":{"field":"d2"},"y":{"field":"m","type":"quantitative"}}},
{"mark":{"type":"rule","color":"#a8a8a8","strokeWidth":2},"data":{"values":[{"m":19.05}]},
"encoding":{"y":{"field":"m","type":"quantitative"}}},
{"data":{"name":"volumeTitle"},"mark":{"type":"text","align":"left","baseline":"middle","fontWeight":"bold","fontSize":10.5,"color":"#4b1a8a"},
"encoding":{"x":{"field":"d","type":"quantitative"},"y":{"field":"m","type":"quantitative"},"text":{"field":"text"}}}
]}
]
}
